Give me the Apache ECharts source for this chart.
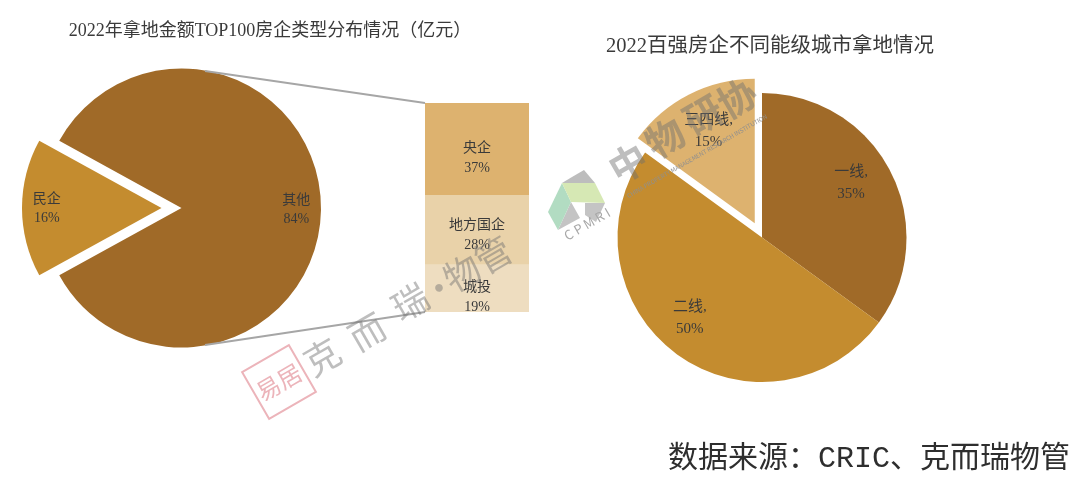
<!DOCTYPE html>
<html>
<head>
<meta charset="utf-8">
<title>2022 拿地情况</title>
<script src="https://cdn.jsdelivr.net/npm/echarts@6/dist/echarts.min.js"></script>
<style>
html,body{margin:0;padding:0;background:#fff;}
#main{width:1080px;height:495px;}
</style>
</head>
<body>
<div id="main"></div>
<script>
// 左图：拿地金额TOP100房企类型
var typeNames = ['其他', '民企'];
var typeValues = [84, 16];
// 左图堆叠条，从下往上
var stackNames = ['城投', '地方国企', '央企'];
var stackValues = [19, 28, 37];
// 右图：不同能级城市
var cityNames = ['一线', '二线', '三四线'];
var cityValues = [35, 50, 15];

var FONT = '"Liberation Serif","Noto Sans CJK SC",serif';
var TEXT = '#3a3a3a';
var typeColors = ['#A06A28', '#C48C2F'];
var stackColors = ['#EEDDC0', '#E9D2A9', '#DDB26F'];
var cityColors = ['#A06A28', '#C48C2F', '#DDB26F'];

var typeOffsets = [[42, 2], [-42, 1]];
var stackOffsets = [[0, 9], [0, 5], [0, 9]];
var cityOffsets = [[22, -20], [-28, 20], [-12, -25]];

function pieData(names, values, colors, offsets, selected) {
	var list = [];
	for (var i = 0; i < names.length; i++) {
		list.push({
			name: names[i],
			value: values[i],
			selected: i == selected,
			itemStyle: { color: colors[i] },
			label: { offset: offsets[i] },
			// 选中状态不继承 offset，要再写一次
			select: { label: { offset: offsets[i] } }
		});
	}
	return list;
}

function stackSeries() {
	var list = [];
	for (var i = 0; i < stackNames.length; i++) {
		list.push({
			name: stackNames[i],
			type: 'bar',
			stack: 'all',
			silent: true,
			barWidth: '100%',
			data: [stackValues[i]],
			itemStyle: { color: stackColors[i] },
			label: {
				show: true,
				position: 'inside',
				offset: stackOffsets[i],
				formatter: '{a}\n{c}%',
				fontFamily: FONT,
				fontSize: 14,
				lineHeight: 20,
				color: TEXT
			}
		});
	}
	return list;
}

// 水印
var grey = 'rgba(110,110,110,0.45)';
var MARK_FONT = '"Noto Sans CJK SC",sans-serif';
function mark(text, x, y, size, color, weight) {
	return {
		type: 'text', x: x, y: y, rotation: 30 * Math.PI / 180, silent: true, z: 100,
		style: {
			text: text, fontSize: size, fill: color, align: 'center', verticalAlign: 'middle',
			fontFamily: MARK_FONT, fontWeight: weight || 'normal'
		}
	};
}
function poly(points, color) {
	return { type: 'polygon', silent: true, z: 99, shape: { points: points }, style: { fill: color } };
}
function connector(x1, y1, x2, y2) {
	return {
		type: 'line', silent: true, z: 5,
		shape: { x1: x1, y1: y1, x2: x2, y2: y2 },
		style: { stroke: '#a6a6a6', lineWidth: 2 }
	};
}

var graphics = [
	connector(205, 71, 425, 103),
	connector(205, 345, 425, 312),
	{
		type: 'text', x: 869, y: 459, silent: true, z: 10,
		style: {
			text: '数据来源：CRIC、克而瑞物管', fontSize: 30, fill: '#2e2e2e', align: 'center', verticalAlign: 'middle',
			fontFamily: '"Liberation Mono","Noto Sans CJK SC",monospace'
		}
	},
	// 克而瑞·物管
	mark('克', 322, 357, 36, grey), mark('而', 367, 332, 36, grey), mark('瑞', 410, 302, 36, grey),
	mark('·', 439, 288, 36, grey), mark('物', 462, 273, 36, grey), mark('管', 493, 255, 36, grey),
	{
		type: 'rect', x: 279, y: 382, rotation: 30 * Math.PI / 180, silent: true, z: 99,
		shape: { x: -27, y: -27, width: 54, height: 54 },
		style: { fill: 'none', stroke: '#ecb4ba', lineWidth: 2 }
	},
	mark('易居', 279, 382, 24, '#ecb4ba'),
	// 中物研协
	mark('中', 628, 163, 38, grey, 'bold'), mark('物', 665, 138, 38, grey, 'bold'),
	mark('研', 703, 115, 38, grey, 'bold'), mark('协', 737, 98, 38, grey, 'bold'),
	mark('CHINA PROPERTY MANAGEMENT RESEARCH INSTITUTION', 697, 156, 6, '#8f8f8f'),
	mark('C P M R I', 587, 224, 13, '#a8a8a8'),
	poly([[572, 177], [584, 170], [595, 183], [562, 183]], '#bdbdbd'),
	poly([[585, 203], [605, 203], [596, 222], [585, 215]], '#c4c4c4'),
	poly([[571, 202], [558, 230], [580, 218]], '#c4c4c4'),
	poly([[548, 212], [562, 183], [571, 202], [558, 230]], '#b2dcc2'),
	poly([[562, 183], [595, 183], [605, 203], [571, 202]], '#d6e8b4')
];

var myChart = echarts.init(document.getElementById('main'));
var option = {
	animation: false,
	backgroundColor: '#fff',
	title: [
		{
			text: '2022年拿地金额TOP100房企类型分布情况（亿元）',
			left: 265, top: 26, textAlign: 'center', textVerticalAlign: 'middle',
			textStyle: { fontFamily: FONT, fontSize: 18, fontWeight: 'normal', color: TEXT }
		},
		{
			text: '2022百强房企不同能级城市拿地情况',
			left: 765, top: 42, textAlign: 'center', textVerticalAlign: 'middle',
			textStyle: { fontFamily: FONT, fontSize: 20.5, fontWeight: 'normal', color: TEXT }
		}
	],
	grid: { left: 425, top: 103, width: 104, height: 209 },
	xAxis: { type: 'category', data: ['类型'], show: false },
	yAxis: { type: 'value', min: 0, max: 84, show: false },
	series: [
		{
			type: 'pie',
			silent: true,
			center: [181.5, 208],
			radius: [0, 139.5],
			startAngle: 180 - typeValues[1] / 100 * 180,
			selectedMode: 'single',
			selectedOffset: 20,
			label: {
				position: 'inside',
				formatter: '{b}\n{d}%',
				fontFamily: FONT,
				fontSize: 14,
				lineHeight: 19,
				color: TEXT
			},
			labelLine: { show: false },
			data: pieData(typeNames, typeValues, typeColors, typeOffsets, 1)
		},
		{
			type: 'pie',
			silent: true,
			center: [762, 237.5],
			radius: [0, 144.5],
			startAngle: 90,
			selectedMode: 'single',
			selectedOffset: 16,
			label: {
				position: 'inside',
				formatter: '{b},\n{d}%',
				fontFamily: FONT,
				fontSize: 15,
				lineHeight: 22,
				color: TEXT
			},
			labelLine: { show: false },
			data: pieData(cityNames, cityValues, cityColors, cityOffsets, 2)
		}
	].concat(stackSeries()),
	graphic: graphics
};
myChart.setOption(option);
</script>
</body>
</html>
